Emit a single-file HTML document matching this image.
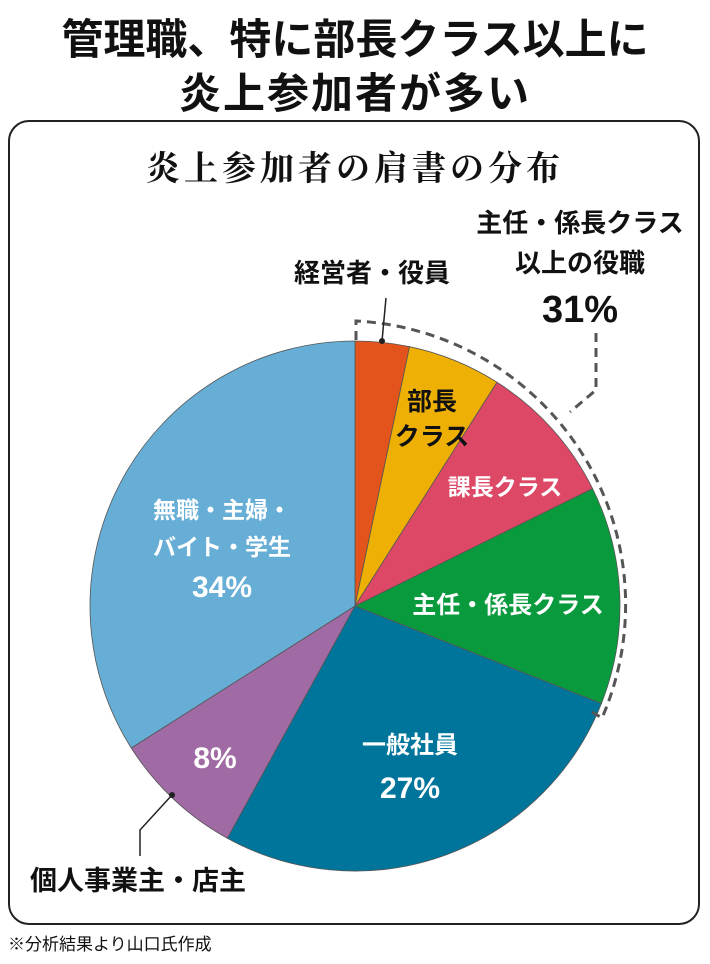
<!DOCTYPE html>
<html><head><meta charset="utf-8"><style>
body{margin:0;width:710px;height:964px;background:#fff;overflow:hidden;font-family:"Liberation Sans","Noto Sans CJK JP",sans-serif;}
svg{display:block}
</style></head><body>
<svg width="710" height="964" viewBox="0 0 710 964">
<text x="355" y="54" text-anchor="middle" font-size="42" font-weight="bold" fill="#111">管理職、特に部長クラス以上に</text>
<text x="355" y="108" text-anchor="middle" font-size="42" font-weight="bold" fill="#111" letter-spacing="2">炎上参加者が多い</text>
<rect x="9" y="121" width="690" height="803" rx="20" fill="none" stroke="#222" stroke-width="2"/>
<text x="355" y="180" text-anchor="middle" font-size="34" font-weight="bold" letter-spacing="4" font-family="'Liberation Serif','Noto Serif CJK SC',serif" fill="#111">炎上参加者の肩書の分布</text>
<g id="pie"></g>
<path d="M356,340 L356,321 A284,284 0 0 1 602,718 L592,712" fill="none" stroke="#555" stroke-width="3" stroke-dasharray="9,6"/>
<path d="M596,333 L596,390 L570,412" fill="none" stroke="#555" stroke-width="3" stroke-dasharray="9,6"/>
<line x1="382" y1="341" x2="386" y2="298" stroke="#222" stroke-width="1.5"/>
<circle cx="382" cy="341" r="3" fill="#222"/>
<polyline points="172,795 140,830 140,856" fill="none" stroke="#222" stroke-width="1.5"/>
<circle cx="172" cy="795" r="3" fill="#222"/>
<g font-weight="bold" fill="#111">
<text x="372" y="282" text-anchor="middle" font-size="26">経営者・役員</text>
<text x="580" y="232" text-anchor="middle" font-size="26">主任・係長クラス</text>
<text x="580" y="272" text-anchor="middle" font-size="26">以上の役職</text>
<text x="580" y="322" text-anchor="middle" font-size="38">31%</text>
<text x="432" y="410" text-anchor="middle" font-size="25">部長</text>
<text x="432" y="445" text-anchor="middle" font-size="25">クラス</text>
<text x="30" y="890" font-size="27">個人事業主・店主</text>
</g>
<g font-weight="bold" fill="#fff">
<text x="505" y="495" text-anchor="middle" font-size="23">課長クラス</text>
<text x="508" y="613" text-anchor="middle" font-size="24">主任・係長クラス</text>
<text x="410" y="753" text-anchor="middle" font-size="24">一般社員</text>
<text x="410" y="798" text-anchor="middle" font-size="30">27%</text>
<text x="215" y="768" text-anchor="middle" font-size="30">8%</text>
<text x="222" y="518" text-anchor="middle" font-size="23">無職・主婦・</text>
<text x="222" y="555" text-anchor="middle" font-size="23">バイト・学生</text>
<text x="222" y="597" text-anchor="middle" font-size="30">34%</text>
</g>
<text x="8" y="950" font-size="17" fill="#111">※分析結果より山口氏作成</text>
</svg>
<script>
const categories=["経営者・役員","部長クラス","課長クラス","主任・係長クラス","一般社員","個人事業主・店主","無職・主婦・バイト・学生"];
const values=[3.3,5.7,8.7,13.3,27,8,34];
const colors=["#e2541b","#efb005","#dc4865","#0a9a3e","#00759c","#a06aa5","#66aed6"];
const cx=355,cy=606,r=265;
const g=document.getElementById('pie');
const total=values.reduce((a,b)=>a+b,0);
let acc=0;
function pt(f){const a=f*2*Math.PI;return [cx+r*Math.sin(a),cy-r*Math.cos(a)];}
values.forEach((v,i)=>{
  const s=pt(acc/total);acc+=v;const e=pt(acc/total);
  const large=v/total>0.5?1:0;
  const p=document.createElementNS('http://www.w3.org/2000/svg','path');
  p.setAttribute('d',`M${cx},${cy} L${s[0]},${s[1]} A${r},${r} 0 ${large} 1 ${e[0]},${e[1]} Z`);
  p.setAttribute('fill',colors[i]);
  p.setAttribute('stroke','#555');
  p.setAttribute('stroke-width','0.8');
  
  
  g.appendChild(p);
});
</script>
</body></html>
